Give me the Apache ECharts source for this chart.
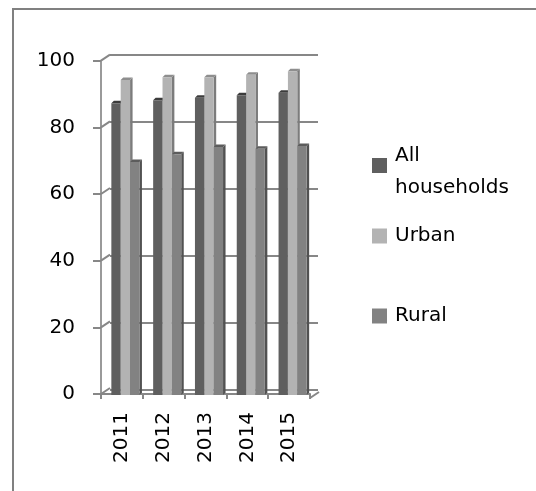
<!DOCTYPE html>
<html><head><meta charset="utf-8">
<script src="https://cdn.jsdelivr.net/npm/echarts@6/dist/echarts.min.js"></script>
<style>html,body{margin:0;padding:0;background:#fff}#c{width:536px;height:491px}</style>
</head><body><div id="c"></div>
<script>
const years = ['2011','2012','2013','2014','2015'];
const allHouseholds = [86.6, 87.5, 88.3, 89.0, 89.8];
const urban = [93.6, 94.4, 94.4, 95.2, 96.2];
const rural = [69.0, 71.3, 73.5, 73.0, 73.8];
const yTicks = [0, 20, 40, 60, 80, 100];

const seriesNames = ['All households', 'Urban', 'Rural'];
const faceColors = [
  {front:'#5f5f5f', side:'#404040', top:'#3c3c3c'},
  {front:'#b3b3b3', side:'#7c7c7c', top:'#8e8e8e'},
  {front:'#828282', side:'#525252', top:'#5c5c5c'}
];
const FONT = 'DejaVu Sans';
const DX = 2.5, DY = 2.5;

function barRender(s){
  return function(params, api){
    const cat = api.value(0), val = api.value(1);
    const c = api.coord([cat, val]);
    const b = api.coord([cat, 0]);
    const w = api.size([1, 0])[0];
    const bw = w * 0.224;
    const x = c[0] + 3.5 + (s - 1.5) * bw;
    const top = c[1] - 2;
    const bottom = b[1] + 1;
    const col = faceColors[s];
    return {
      type: 'group',
      children: [
        {type:'polygon', shape:{points:[[x+bw,top],[x+bw+DX,top-DY],[x+bw+DX,bottom-DY],[x+bw,bottom]]}, style:{fill:col.side}},
        {type:'polygon', shape:{points:[[x,top],[x+DX,top-DY],[x+bw+DX,top-DY],[x+bw,top]]}, style:{fill:col.top}},
        {type:'rect', shape:{x:x, y:top, width:bw, height:bottom-top}, style:{fill:col.front}}
      ]
    };
  };
}

function decorRender(params, api){
  const v = api.value(0);
  const p = api.coord([0, v]);
  const w = api.size([1, 0])[0];
  const lx = p[0] - w/2;
  const children = [
    {type:'line', shape:{x1:lx, y1:p[1], x2:lx+9, y2:p[1]-6}, style:{stroke:'#878787', lineWidth:2}}
  ];
  if (v === 0) {
    const rx = lx + w * years.length;
    children.push({type:'line', shape:{x1:rx, y1:p[1]+4, x2:rx+9, y2:p[1]-2}, style:{stroke:'#878787', lineWidth:2}});
  }
  return {type:'group', children};
}

const chart = echarts.init(document.getElementById('c'), null, {renderer:'canvas'});
const legendBase = {
  orient:'vertical', icon:'rect', itemWidth:15, itemHeight:15,
  textStyle:{fontFamily:FONT, fontSize:20, color:'#000', padding:[0,0,0,3]},
  selectedMode:false
};
chart.setOption({
  animation:false,
  backgroundColor:'#fff',
  graphic:[{type:'rect', shape:{x:13, y:9, width:700, height:700}, style:{fill:null, stroke:'#808080', lineWidth:2}, silent:true}],
  grid:[
    {left:110, top:54.5, width:208, height:335.5},
    {left:101, top:60.7, width:209, height:333.3}
  ],
  xAxis:[
    {gridIndex:0, type:'category', data:years, show:false},
    {gridIndex:1, type:'category', data:years, offset:4,
     axisLine:{lineStyle:{color:'#878787', width:2}},
     axisTick:{show:true, length:5, lineStyle:{color:'#878787', width:2}},
     axisLabel:{rotate:90, margin:14, fontFamily:FONT, fontSize:20, color:'#000'}}
  ],
  yAxis:[
    {gridIndex:0, type:'value', min:0, max:100, interval:20,
     axisLine:{show:false}, axisTick:{show:false}, axisLabel:{show:false},
     splitLine:{show:true, lineStyle:{color:'#878787', width:2}}},
    {gridIndex:1, type:'value', min:0, max:100, interval:20,
     axisLine:{show:true, lineStyle:{color:'#9a9a9a', width:2}},
     axisTick:{show:true, length:8, lineStyle:{color:'#878787', width:2}},
     axisLabel:{margin:26, fontFamily:FONT, fontSize:20, color:'#000'},
     splitLine:{show:false}}
  ],
  legend:[
    Object.assign({}, legendBase, {left:367, top:141, data:[seriesNames[0]],
      formatter:function(){ return '{a|All}\n{b|households}'; },
      textStyle:{fontFamily:FONT, fontSize:20, color:'#000', padding:[0,0,0,3],
        rich:{a:{fontFamily:FONT, fontSize:20, color:'#000', lineHeight:45},
              b:{fontFamily:FONT, fontSize:20, color:'#000', lineHeight:19}}}}),
    Object.assign({}, legendBase, {left:367, top:221, data:[seriesNames[1]]}),
    Object.assign({}, legendBase, {left:367, top:301, data:[seriesNames[2]]})
  ],
  series:[
    {type:'custom', name:'decor', xAxisIndex:1, yAxisIndex:1, renderItem:decorRender,
     data:yTicks.map(v=>[v]), encode:{y:0}, silent:true, z:1},
    {type:'custom', name:seriesNames[0], xAxisIndex:1, yAxisIndex:1, renderItem:barRender(0),
     itemStyle:{color:faceColors[0].front}, data:allHouseholds.map((v,i)=>[i,v]), encode:{x:0,y:1}, z:3},
    {type:'custom', name:seriesNames[1], xAxisIndex:1, yAxisIndex:1, renderItem:barRender(1),
     itemStyle:{color:faceColors[1].front}, data:urban.map((v,i)=>[i,v]), encode:{x:0,y:1}, z:4},
    {type:'custom', name:seriesNames[2], xAxisIndex:1, yAxisIndex:1, renderItem:barRender(2),
     itemStyle:{color:faceColors[2].front}, data:rural.map((v,i)=>[i,v]), encode:{x:0,y:1}, z:5}
  ]
});
</script></body></html>
